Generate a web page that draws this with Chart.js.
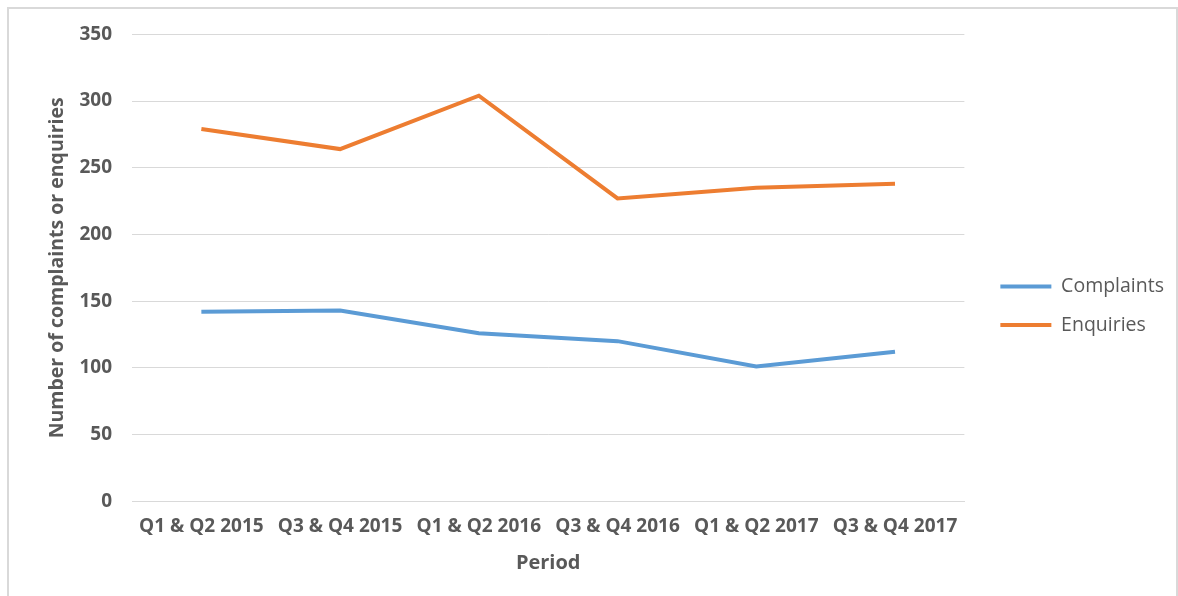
<!DOCTYPE html>
<html>
<head>
<meta charset="utf-8">
<script src="https://cdn.jsdelivr.net/npm/chart.js@4.4.0/dist/chart.umd.min.js"></script>
<style>
  body { margin: 0; background: #fff; }
  .frame {
    position: absolute; left: 7px; top: 7px; width: 1167px; height: 600px;
    border: 2px solid #d9d9d9; background: #fff;
  }
  .wrap { position: absolute; left: 0; top: -6px; width: 1165px; height: 593px; }
</style>
</head>
<body>
<div class="frame">
  <div class="wrap"><canvas id="periodChart"></canvas></div>
</div>
<script>
'use strict';

const periods = ['Q1 & Q2 2015', 'Q3 & Q4 2015', 'Q1 & Q2 2016', 'Q3 & Q4 2016', 'Q1 & Q2 2017', 'Q3 & Q4 2017'];
const complaints = [142, 143, 126, 120, 101, 112];
const enquiries = [279, 264, 304, 227, 235, 238];
const yTicks = [0, 50, 100, 150, 200, 250, 300, 350];

const grey = '#595959';
const fontFamily = '"Open Sans", "Liberation Sans", sans-serif';

const ctx = document.getElementById('periodChart').getContext('2d');

new Chart(ctx, {
  type: 'line',
  data: {
    labels: periods,
    datasets: [
      {
        label: 'Complaints',
        data: complaints,
        borderColor: '#5b9bd5',
        backgroundColor: '#5b9bd5',
        borderWidth: 4,
        pointRadius: 0,
        tension: 0,
        fill: false,
      },
      {
        label: 'Enquiries',
        data: enquiries,
        borderColor: '#ed7d31',
        backgroundColor: '#ed7d31',
        borderWidth: 4,
        pointRadius: 0,
        tension: 0,
        fill: false,
      },
    ],
  },
  options: {
    responsive: true,
    maintainAspectRatio: false,
    animation: false,
    layout: {
      padding: { top: 14, left: 0, right: 0, bottom: 17 },
    },
    plugins: {
      tooltip: { enabled: false },
      legend: {
        position: 'right',
        // empty title only nudges the items down a little
        title: { display: true, text: ' ', padding: 0, font: { size: 13 } },
        labels: {
          boxWidth: 51,
          boxHeight: 4,
          padding: 19,
          color: grey,
          font: { family: fontFamily, size: 19.5 },
          generateLabels: (chart) =>
            Chart.defaults.plugins.legend.labels.generateLabels(chart).map((l) => ({ ...l, lineWidth: 0 })),
        },
      },
    },
    scales: {
      x: {
        offset: true,
        grid: { display: false },
        border: { color: '#d9d9d9' },
        ticks: {
          color: grey,
          maxRotation: 0,
          autoSkip: false,
          padding: 6,
          font: { family: fontFamily, size: 19, weight: 'bold' },
        },
        title: {
          display: true,
          text: 'Period',
          color: grey,
          padding: { top: 7 },
          font: { family: fontFamily, size: 20, weight: 'bold' },
        },
      },
      y: {
        min: 0,
        max: 350,
        afterBuildTicks: (scale) => {
          scale.ticks = yTicks.map((v) => ({ value: v }));
        },
        afterFit: (scale) => {
          scale.width = 123;
        },
        border: { display: false },
        grid: { color: '#d9d9d9', lineWidth: 1, drawTicks: false },
        ticks: {
          color: grey,
          padding: 20,
          font: { family: fontFamily, size: 19, weight: 'bold' },
        },
        title: {
          display: true,
          text: 'Number of complaints or enquiries',
          color: grey,
          padding: { top: 37, bottom: 0 },
          font: { family: fontFamily, size: 19.5, weight: 'bold' },
        },
      },
      yRight: {
        position: 'right',
        display: true,
        grid: { display: false },
        border: { display: false },
        ticks: { display: false },
        afterFit: (scale) => {
          scale.width = 17;
        },
      },
    },
  },
});
</script>
</body>
</html>
